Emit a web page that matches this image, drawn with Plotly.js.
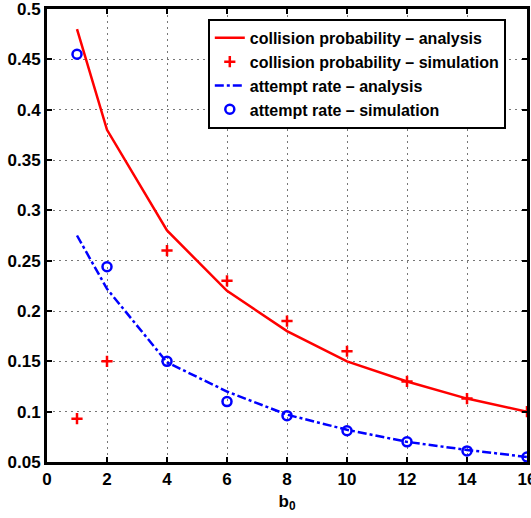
<!DOCTYPE html>
<html>
<head>
<meta charset="utf-8">
<script src="https://cdn.plot.ly/plotly-3.0.1.min.js"></script>
<style>html,body{margin:0;padding:0;background:#fff;}#chart{width:531px;height:518px;}</style>
</head>
<body>
<div id="chart"></div>
<script>
const b0 = [1, 2, 4, 6, 8, 10, 12, 14, 16];
const collisionAnalysis = [0.48, 0.38, 0.28, 0.22, 0.18, 0.15, 0.13, 0.113, 0.10];
const collisionSimulation = [0.093, 0.15, 0.26, 0.23, 0.19, 0.16, 0.13, 0.113, 0.10];
const attemptAnalysis = [0.275, 0.222, 0.149, 0.12, 0.097, 0.082, 0.07, 0.062, 0.055];
const attemptSimulation = [0.455, 0.244, 0.15, 0.11, 0.096, 0.081, 0.07, 0.061, 0.055];
const xTicks = [0, 2, 4, 6, 8, 10, 12, 14, 16];
const yTicks = [0.05, 0.1, 0.15, 0.2, 0.25, 0.3, 0.35, 0.4, 0.45, 0.5];
const names = ['collision probability \u2013 analysis', 'collision probability \u2013 simulation',
  'attempt rate \u2013 analysis', 'attempt rate \u2013 simulation'];

const traces = [
  {x: b0, y: collisionAnalysis, name: names[0], mode: 'lines', line: {color: '#ff0000', width: 2.5}},
  {x: b0, y: collisionSimulation, name: names[1], mode: 'markers',
   marker: {symbol: 'cross-thin', size: 8, color: '#ff0000', line: {color: '#ff0000', width: 2.5}}},
  {x: b0, y: attemptAnalysis, name: names[2], mode: 'lines', line: {color: '#0000ff', width: 2.5, dash: 'dashdot'}},
  {x: b0, y: attemptSimulation, name: names[3], mode: 'markers',
   marker: {symbol: 'circle-open', size: 9, color: '#0000ff', line: {color: '#0000ff', width: 2.5}}}
];

const font = {family: 'Liberation Sans, Arial, sans-serif', size: 16, color: '#000', weight: 'bold'};
const tickFont = {family: 'Liberation Sans, Arial, sans-serif', size: 17, color: '#000', weight: 'bold'};
const axisCommon = {
  showline: true, linecolor: '#000', linewidth: 3, mirror: 'ticks',
  ticks: 'inside', ticklen: 5, tickwidth: 2, tickcolor: '#000',
  showgrid: true, gridcolor: '#777', griddash: '1.5px,4.5px', gridwidth: 1,
  zeroline: false, tickfont: tickFont, ticklabeloverflow: 'allow'
};

const layout = {
  width: 531, height: 518,
  margin: {l: 47, r: 4, t: 9, b: 56},
  paper_bgcolor: '#fff', plot_bgcolor: '#fff',
  font: font,
  showlegend: true,
  legend: {x: 0.335, y: 0.978, xanchor: 'left', yanchor: 'top', bgcolor: '#fff',
    bordercolor: '#000', borderwidth: 2, font: font, tracegroupgap: 0},
  xaxis: Object.assign({}, axisCommon, {range: [0, 16], tickvals: xTicks,
    title: {text: 'b<sub>0</sub>', font: tickFont, standoff: 7}}),
  yaxis: Object.assign({}, axisCommon, {range: [0.05, 0.5], tickvals: yTicks})
};

Plotly.newPlot('chart', traces, layout, {displayModeBar: false, staticPlot: true});
</script>
</body>
</html>
